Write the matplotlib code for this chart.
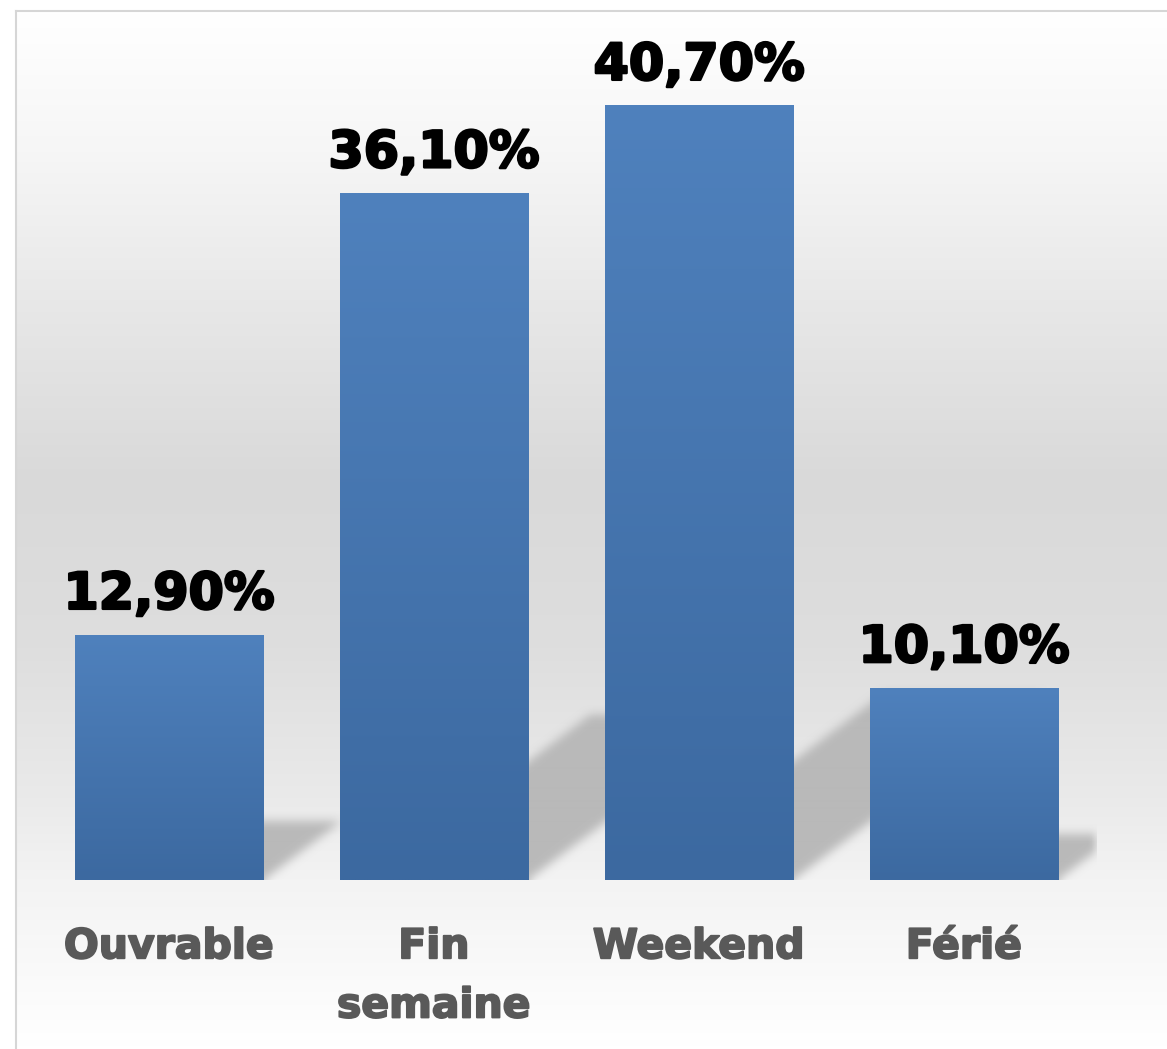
import numpy as np
import matplotlib
matplotlib.use("Agg")
import matplotlib.pyplot as plt
from matplotlib.colors import LinearSegmentedColormap, to_rgb
import matplotlib.patheffects as pe

# ---------------- data ----------------
categories = ["Ouvrable", "Fin\nsemaine", "Weekend", "Férié"]
values = [12.9, 36.1, 40.7, 10.1]
value_labels = ["12,90%", "36,10%", "40,70%", "10,10%"]

# ---------------- figure ----------------
W, H = 1167, 1049
fig = plt.figure(figsize=(W / 100, H / 100), dpi=100)
fig.patch.set_facecolor("white")

# background panel with vertical gradient
frame_l, frame_t = 16, 11
bg = fig.add_axes([frame_l / W, 0, 1 - frame_l / W, 1 - frame_t / H])
bg_stops = [(0.0, "#ffffff"), (0.134, "#f6f6f6"), (0.278, "#e8e8e8"),
            (0.452, "#d9d9d9"), (0.615, "#dedede"), (0.76, "#eaeaea"),
            (0.837, "#f3f3f3"), (1.0, "#ffffff")]
bg_cmap = LinearSegmentedColormap.from_list("bg", bg_stops)
bg.imshow(np.linspace(0, 1, 512).reshape(-1, 1), cmap=bg_cmap, aspect="auto",
          extent=[0, 1, 0, 1], origin="upper", interpolation="bilinear")
bg.set_xlim(0, 1); bg.set_ylim(0, 1)
bg.set_xticks([]); bg.set_yticks([])
for s in ["right", "bottom"]:
    bg.spines[s].set_visible(False)
for s in ["left", "top"]:
    bg.spines[s].set_color("#d6d6d6")
    bg.spines[s].set_linewidth(1.5)

# main axes
ax_l, ax_w = 36.5, 1060
ax_b = 1049 - 880
ymax = 45
ppy = 19.03
ax_h = ymax * ppy
ax = fig.add_axes([ax_l / W, ax_b / H, ax_w / W, ax_h / H])
ax.patch.set_alpha(0)
ax.set_axis_off()

x = np.arange(len(categories))
bw = 0.71
ppx = ax_w / 4.0

# ---------------- shadows ----------------
nx, ny = 1060, 950
gx = np.linspace(-0.5, 3.5, nx)
gy = np.linspace(-5, ymax, ny)
X, Y = np.meshgrid(gx, gy)
mask = np.zeros_like(X)
slope = 0.75
offset = 30 / ppx
shift = np.maximum(Y, 0) * ppy / slope / ppx
for xi, v in zip(x, values):
    x0, x1 = xi - bw / 2, xi + bw / 2
    hs = 0.24 * v
    m = (Y <= hs) & (X >= x0 + offset + shift) & (X <= x1 + shift)
    mask[m] = 1.0


def blur(a, r, axis):
    k = np.ones(2 * r + 1) / (2 * r + 1)
    return np.apply_along_axis(lambda t: np.convolve(t, k, mode="same"), axis, a)


for _ in range(2):
    mask = blur(mask, 5, 0)
    mask = blur(mask, 5, 1)

sh = np.zeros((ny, nx, 4))
sh[..., :3] = to_rgb("#b8b8b8")
sh[..., 3] = np.clip(mask, 0, 1) * 0.97
ax.imshow(sh, extent=[-0.5, 3.5, -5, ymax], origin="lower", aspect="auto",
          zorder=1, interpolation="bilinear")

# ---------------- bars ----------------
bars = ax.bar(x, values, width=bw, color="none", edgecolor="none", zorder=3)
bar_cmap = LinearSegmentedColormap.from_list("bar", ["#3c69a0", "#4f81bd"])
grad = np.linspace(0, 1, 256).reshape(-1, 1)
for rect, v in zip(bars, values):
    x0 = rect.get_x()
    x1 = x0 + rect.get_width()
    im = ax.imshow(grad, cmap=bar_cmap, extent=[x0, x1, 0, v], origin="lower",
                   aspect="auto", zorder=3, interpolation="bilinear")
    im.set_clip_path(rect)

# ---------------- labels ----------------
for xi, v, lab in zip(x, values, value_labels):
    ax.annotate(lab, (xi, v), xytext=(0, 18.5), textcoords="offset points",
                ha="center", va="baseline", fontsize=36.5, fontweight="bold",
                color="black", family="DejaVu Sans", zorder=5,
                path_effects=[pe.withStroke(linewidth=1.8, foreground="black")])

for xi, cat in zip(x, categories):
    ax.annotate(cat, (xi, 0), xycoords=("data", "axes fraction"),
                xytext=(0, -34), textcoords="offset points",
                ha="center", va="top", fontsize=29.5, fontweight="bold",
                color="#595959", family="DejaVu Sans", linespacing=1.62,
                path_effects=[pe.withStroke(linewidth=1.4, foreground="#595959")])

ax.set_xlim(-0.5, 3.5)
ax.set_ylim(0, ymax)

fig.savefig("out.png", dpi=100, facecolor="white")
